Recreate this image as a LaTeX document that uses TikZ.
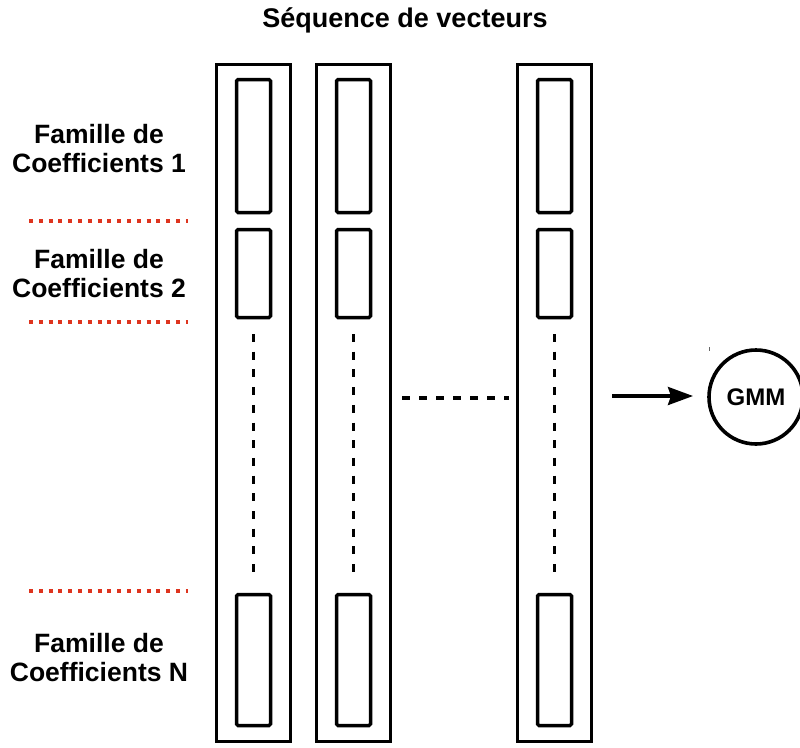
\documentclass[tikz,border=0pt]{standalone}
\usepackage{fontspec}
\setmainfont{Liberation Sans}
\usetikzlibrary{arrows.meta}
\definecolor{redline}{RGB}{222,52,30}
\begin{document}
\begin{tikzpicture}[x=1pt,y=-1pt,
  outerbox/.style={draw, line width=3.8pt, minimum width=74pt, minimum height=677pt, inner sep=0pt},
  innerbox/.style={draw, line width=3.5pt, rounded corners=1.5pt, minimum width=34pt, inner sep=0pt},
  coldots/.style={line width=3.6pt, dash pattern=on 8pt off 9.7pt},
  hdots/.style={line width=3.6pt, dash pattern=on 8pt off 9pt},
  reddots/.style={draw=redline, line width=3.6pt, dash pattern=on 4pt off 5.8pt},
  lbl/.style={font=\bfseries\fontsize{26.5}{29}\selectfont, align=center, inner sep=0pt},
]
\useasboundingbox (0,0) rectangle (800,747);

% title
\node[font=\bfseries\fontsize{27}{30}\selectfont, inner sep=0pt, anchor=base] (title) at (405,27) {Séquence de vecteurs};

% columns
\foreach \n/\x in {1/253.5, 2/353.5, 3/554.5}{
  \node[outerbox] (c\n) at (\x,403) {};
  \node[innerbox, minimum height=133pt] (t\n) at (\x,146) {};
  \node[innerbox, minimum height=88pt] (s\n) at (\x,273.5) {};
  \node[innerbox, minimum height=131pt] (b\n) at (\x,660) {};
  \coordinate (d\n a) at (\x,334);
  \coordinate (d\n b) at (\x,581);
  \draw[coldots] (d\n a) -- (d\n b);
}

% horizontal dashed between columns
\coordinate (h1) at (402,398);
\coordinate (h2) at (509,398);
\draw[hdots] (h1) -- (h2);

% labels
\node[lbl] (l1) at (99,148.5) {Famille de\\Coefficients 1};
\node[lbl] (l2) at (99,273.5) {Famille de\\Coefficients 2};
\node[lbl] (lN) at (99,657.5) {Famille de\\Coefficients N};

% red separators
\coordinate (r1a) at (29,221); \coordinate (r1b) at (188,221);
\coordinate (r2a) at (29,322); \coordinate (r2b) at (188,322);
\coordinate (r3a) at (29,591); \coordinate (r3b) at (188,591);
\draw[reddots] (r1a) -- (r1b);
\draw[reddots] (r2a) -- (r2b);
\draw[reddots] (r3a) -- (r3b);

% GMM
\node[draw, circle, line width=3.6pt, minimum size=94pt, inner sep=0pt,
      font=\bfseries\fontsize{24}{28}\selectfont] (gmm) at (756,397) {GMM};
\coordinate (a1) at (612,396);
\draw[line width=3.4pt, -{Stealth[length=25pt,width=18pt,inset=3pt]}] (a1) -- (693,396);
\draw[line width=1pt, black!60] (709,347) -- (709,351);
\end{tikzpicture}
\end{document}
